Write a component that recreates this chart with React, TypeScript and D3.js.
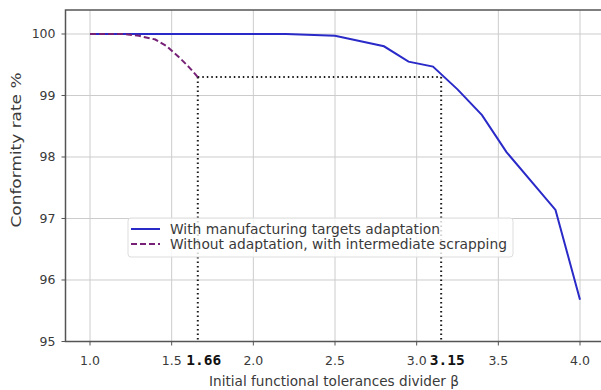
import React, { useRef, useEffect } from 'react'
import * as d3 from 'd3'

// Series
const adaptX = [1.0, 1.3, 1.6, 1.9, 2.2, 2.5, 2.8, 2.95, 3.1, 3.25, 3.4, 3.55, 3.85, 4.0]
const adaptY = [100, 100, 100, 100, 100, 99.97, 99.8, 99.55, 99.47, 99.1, 98.68, 98.08, 97.14, 95.68]

const scrapX = [1.0, 1.2, 1.3, 1.4, 1.47, 1.55, 1.61, 1.66]
const scrapY = [100, 100, 99.97, 99.91, 99.8, 99.61, 99.45, 99.3]

const xTicks = [1.0, 1.5, 2.0, 2.5, 3.0, 3.5, 4.0]
const yTicks = [95, 96, 97, 98, 99, 100]

// marker lines: beta values and the common conformity level
const markX = [1.66, 3.15]
const markLabels = ['1.66', '3.15']
const markY = 99.3

const legendLabels = [
  'With manufacturing targets adaptation',
  'Without adaptation, with intermediate scrapping'
]

const COLORS = {
  adapt: '#2a2ac8',
  scrap: '#762076',
  dotted: '#1a1a1a',
  grid: '#cccccc',
  spine: '#555555',
  text: '#3a3a3a'
}

const W = 601
const H = 390
const FONT = '"DejaVu Sans", Arial, sans-serif'

export default function App() {
  const svgRef = useRef<SVGSVGElement>(null)

  useEffect(() => {
    if (!svgRef.current) return
    const svg = d3.select(svgRef.current)
    svg.selectAll('*').remove()

    const left = 65.5
    const right = 604.5
    const top = 10
    const bottom = 341.5

    const x = d3.scaleLinear().domain([0.85, 4.15]).range([left, right])
    const y = d3.scaleLinear().domain([95, 100.39]).range([bottom, top])

    svg.append('rect').attr('width', W).attr('height', H).attr('fill', 'white')

    svg.append('clipPath').attr('id', 'plot-clip')
      .append('rect')
      .attr('x', left).attr('y', top - 2)
      .attr('width', right - left).attr('height', bottom - top + 2)

    // grid
    const grid = svg.append('g')
    grid.selectAll('.gx').data(xTicks).enter().append('line')
      .attr('x1', d => x(d)).attr('x2', d => x(d))
      .attr('y1', top).attr('y2', bottom)
      .attr('stroke', COLORS.grid).attr('stroke-width', 1)
    grid.selectAll('.gy').data(yTicks).enter().append('line')
      .attr('x1', left).attr('x2', right)
      .attr('y1', d => y(d)).attr('y2', d => y(d))
      .attr('stroke', COLORS.grid).attr('stroke-width', 1)

    const plot = svg.append('g').attr('clip-path', 'url(#plot-clip)')

    // dotted guide lines
    plot.append('line')
      .attr('x1', x(markX[0])).attr('x2', x(markX[1]))
      .attr('y1', y(markY)).attr('y2', y(markY))
      .attr('stroke', COLORS.dotted).attr('stroke-width', 2)
      .attr('stroke-dasharray', '1.5,3')
    plot.selectAll('.vmark').data(markX).enter().append('line')
      .attr('x1', d => x(d)).attr('x2', d => x(d))
      .attr('y1', y(markY)).attr('y2', bottom)
      .attr('stroke', COLORS.dotted).attr('stroke-width', 2)
      .attr('stroke-dasharray', '1.5,3')

    const line = d3.line<[number, number]>()
      .x(d => x(d[0]))
      .y(d => y(d[1]))

    plot.append('path')
      .datum(adaptX.map((v, i) => [v, adaptY[i]] as [number, number]))
      .attr('d', line)
      .attr('fill', 'none')
      .attr('stroke', COLORS.adapt)
      .attr('stroke-width', 2)

    plot.append('path')
      .datum(scrapX.map((v, i) => [v, scrapY[i]] as [number, number]))
      .attr('d', line)
      .attr('fill', 'none')
      .attr('stroke', COLORS.scrap)
      .attr('stroke-width', 2)
      .attr('stroke-dasharray', '6,3')

    // spines
    svg.append('path')
      .attr('d', `M${right},${top}H${left}V${bottom}H${right}`)
      .attr('fill', 'none')
      .attr('stroke', COLORS.spine)
      .attr('stroke-width', 1.5)

    // ticks
    svg.selectAll('.xt').data(xTicks).enter().append('line')
      .attr('x1', d => x(d)).attr('x2', d => x(d))
      .attr('y1', bottom).attr('y2', bottom + 4)
      .attr('stroke', COLORS.spine)
    svg.selectAll('.xl').data(xTicks).enter().append('text')
      .attr('x', d => x(d)).attr('y', bottom + 23)
      .attr('text-anchor', 'middle')
      .style('font-family', FONT).style('font-size', '12.5px')
      .attr('fill', COLORS.text)
      .text(d => d3.format('.1f')(d))

    svg.selectAll('.yt').data(yTicks).enter().append('line')
      .attr('x1', left - 4).attr('x2', left)
      .attr('y1', d => y(d)).attr('y2', d => y(d))
      .attr('stroke', COLORS.spine)
    svg.selectAll('.yl').data(yTicks).enter().append('text')
      .attr('x', left - 10).attr('y', d => y(d))
      .attr('text-anchor', 'end')
      .attr('dominant-baseline', 'central')
      .style('font-family', FONT).style('font-size', '12.5px')
      .attr('fill', COLORS.text)
      .text(d => d)

    // marker labels
    svg.selectAll('.ml').data(markX).enter().append('text')
      .attr('x', (d, i) => x(d) + 6).attr('y', bottom + 23)
      .attr('text-anchor', 'middle')
      .style('font-family', '"DejaVu Sans Mono", monospace')
      .style('font-size', '14.5px').style('font-weight', 'bold')
      .attr('fill', '#111')
      .text((d, i) => markLabels[i])

    // axis titles (the reference text is set wider than the font's natural width)
    svg.append('text')
      .attr('x', 334).attr('y', 386)
      .attr('text-anchor', 'middle')
      .attr('textLength', 250).attr('lengthAdjust', 'spacingAndGlyphs')
      .style('font-family', FONT).style('font-size', '13.5px')
      .attr('fill', COLORS.text)
      .text('Initial functional tolerances divider β')
    svg.append('text')
      .attr('transform', 'translate(21,150) rotate(-90)')
      .attr('text-anchor', 'middle')
      .attr('textLength', 155).attr('lengthAdjust', 'spacingAndGlyphs')
      .style('font-family', FONT).style('font-size', '13.5px')
      .attr('fill', COLORS.text)
      .text('Conformity rate %')

    // legend
    const lg = svg.append('g').attr('transform', 'translate(128,218)')
    lg.append('rect')
      .attr('width', 385).attr('height', 39).attr('rx', 3)
      .attr('fill', 'white').attr('fill-opacity', 0.8)
      .attr('stroke', '#dddddd')
    const rows = lg.selectAll('.row').data(legendLabels).enter().append('g')
      .attr('transform', (d, i) => `translate(0,${11 + i * 15})`)
    rows.append('line')
      .attr('x1', 3).attr('x2', 32)
      .attr('stroke', (d, i) => i === 0 ? COLORS.adapt : COLORS.scrap)
      .attr('stroke-width', 2)
      .attr('stroke-dasharray', (d, i) => i === 0 ? null : '6,3')
    rows.append('text')
      .attr('x', 42)
      .attr('dominant-baseline', 'central')
      .attr('textLength', (d, i) => i === 0 ? 270 : 337)
      .attr('lengthAdjust', 'spacingAndGlyphs')
      .style('font-family', FONT).style('font-size', '13.5px')
      .attr('fill', COLORS.text)
      .text(d => d)
  }, [])

  return (
    <svg
      ref={svgRef}
      width={W}
      height={H}
      style={{ position: 'absolute', left: 0, top: 0, background: 'white' }}
    />
  )
}
